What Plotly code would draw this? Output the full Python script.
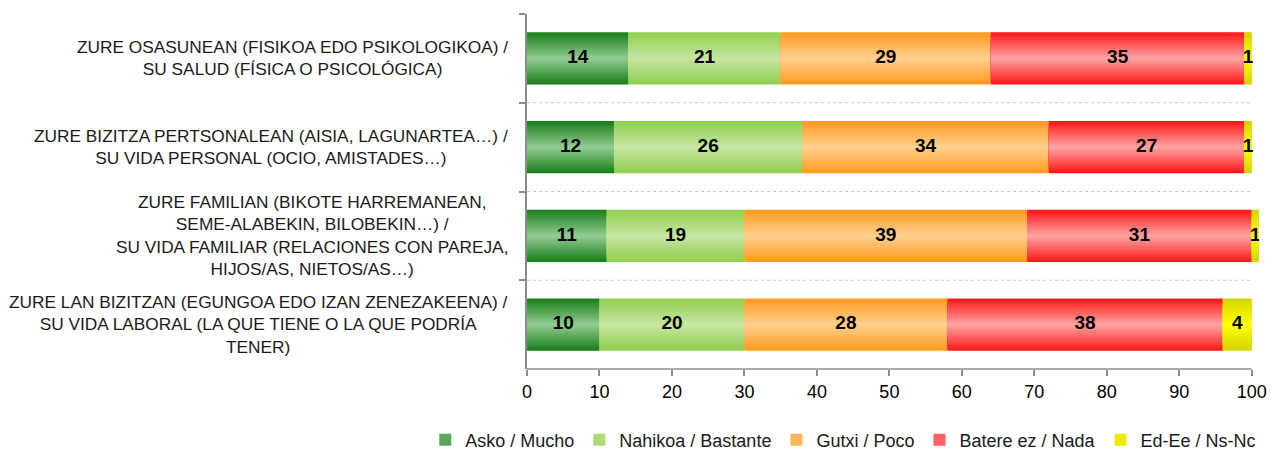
import numpy as np
import plotly.graph_objects as go

# Row labels, top to bottom
categories = [
    "ZURE OSASUNEAN (FISIKOA EDO PSIKOLOGIKOA) /<br>SU SALUD (FÍSICA O PSICOLÓGICA)",
    "ZURE BIZITZA PERTSONALEAN (AISIA, LAGUNARTEA…) /<br>SU VIDA PERSONAL (OCIO, AMISTADES…)",
    "ZURE FAMILIAN (BIKOTE HARREMANEAN,<br>SEME-ALABEKIN, BILOBEKIN…) /<br>SU VIDA FAMILIAR (RELACIONES CON PAREJA,<br>HIJOS/AS, NIETOS/AS…)",
    "ZURE LAN BIZITZAN (EGUNGOA EDO IZAN ZENEZAKEENA) /<br>SU VIDA LABORAL (LA QUE TIENE O LA QUE PODRÍA<br>TENER)",
]

# Percentages per answer
asko = [14, 12, 11, 10]
nahikoa = [21, 26, 19, 20]
gutxi = [29, 34, 39, 28]
batere = [35, 27, 31, 38]
edee = [1, 1, 1, 4]

series_names = ["Asko / Mucho", "Nahikoa / Bastante", "Gutxi / Poco", "Batere ez / Nada", "Ed-Ee / Ns-Nc"]
series_values = [asko, nahikoa, gutxi, batere, edee]

x_ticks = [0, 10, 20, 30, 40, 50, 60, 70, 80, 90, 100]

# (edge colour, centre colour) of the vertical gradient of each series
gradients = [
    ((27, 127, 27), (143, 202, 143)),
    ((146, 208, 80), (197, 229, 160)),
    ((255, 155, 33), (255, 207, 140)),
    ((255, 26, 26), (255, 160, 160)),
    ((212, 212, 0), (255, 255, 0)),
]

FONT = "Liberation Sans, Arial, sans-serif"
BAR_WIDTH = 0.59
N_LAYERS = 14


def mix(c0, c1, t):
    return "rgb(%d,%d,%d)" % tuple(round(a + (b - a) * t) for a, b in zip(c0, c1))


fig = go.Figure()

vals = np.array(series_values, dtype=float)
bases = np.vstack([np.zeros(len(categories)), np.cumsum(vals, axis=0)[:-1]])

for i, name in enumerate(series_names):
    edge, centre = gradients[i]
    for k in range(N_LAYERS):
        t = k / (N_LAYERS - 1)
        fig.add_trace(go.Bar(
            y=categories,
            x=vals[i],
            base=bases[i],
            orientation="h",
            width=BAR_WIDTH * (1 - k / N_LAYERS),
            marker=dict(color=mix(edge, centre, t), line=dict(width=0)),
            name=name,
            legendgroup=name,
            showlegend=(k == N_LAYERS // 2),
            hoverinfo="skip",
        ))

# Value labels in the middle of each segment
for i in range(len(series_names)):
    fig.add_trace(go.Scatter(
        y=categories,
        x=bases[i] + vals[i] / 2,
        mode="text",
        text=[str(v) for v in series_values[i]],
        textposition="middle center",
        textfont=dict(family=FONT, size=19, color="#000000", weight="bold"),
        showlegend=False,
        hoverinfo="skip",
    ))

# Row labels, centred lines
for cat in categories:
    fig.add_annotation(
        x=0, xref="paper", xanchor="right", xshift=-17,
        y=cat, yref="y", yanchor="middle",
        text=cat, align="center", showarrow=False,
        font=dict(family=FONT, size=17.3, color="#1a1a1a"),
    )

# Dotted separators between rows
for j in range(len(categories) - 1):
    fig.add_shape(
        type="line", xref="x", yref="y",
        x0=0, x1=100, y0=j + 0.5, y1=j + 0.5,
        line=dict(color="#c8c8c8", width=1, dash="dot"),
    )

# Bottom axis line from 0 to 100
fig.add_shape(
    type="line", xref="x", yref="paper",
    x0=0, x1=100, y0=0, y1=0,
    line=dict(color="#8c8c8c", width=1.5),
)

fig.update_layout(
    width=1271, height=450, autosize=False,
    margin=dict(l=527, r=12, t=14, b=81, autoexpand=False),
    barmode="overlay",
    plot_bgcolor="white", paper_bgcolor="white",
    font=dict(family=FONT, size=18, color="#000000"),
    legend=dict(
        orientation="h", x=-0.139, xanchor="left", y=-0.2, yanchor="middle",
        font=dict(family=FONT, size=18, color="#1a1a1a"),
        traceorder="normal",
    ),
    xaxis=dict(
        range=[0, 101], tickvals=x_ticks, ticktext=[str(v) for v in x_ticks],
        showgrid=False, zeroline=False, showline=False,
        ticks="outside", ticklen=6, tickcolor="#8c8c8c", tickwidth=1.5,
        tickfont=dict(family=FONT, size=18, color="#000000"),
    ),
    yaxis=dict(
        type="category", autorange="reversed",
        showticklabels=False, showgrid=False, zeroline=False,
        showline=True, linecolor="#8c8c8c", linewidth=1.5,
        ticks="outside", ticklen=6, tickcolor="#8c8c8c", tickwidth=1.5,
        tickson="boundaries",
    ),
)

fig.write_html("out.html")
